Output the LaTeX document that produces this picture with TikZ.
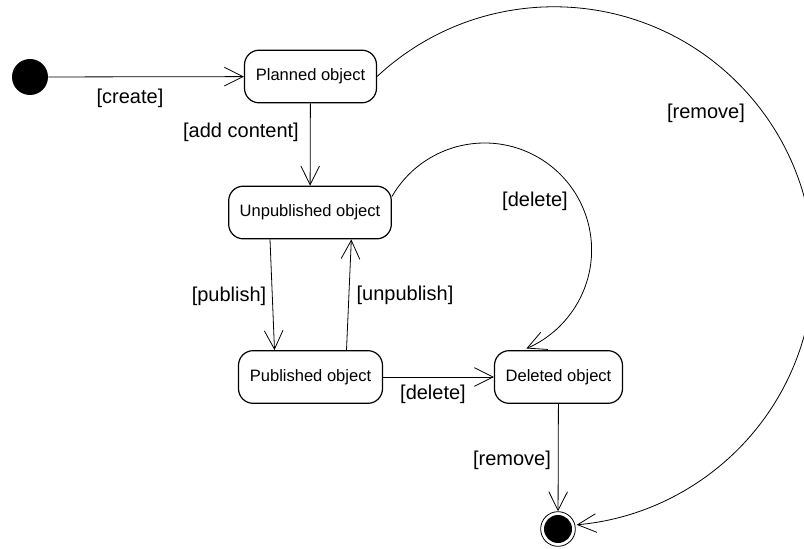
\documentclass[tikz,border=0pt]{standalone}
\usepackage{fontspec}
\setmainfont{Liberation Sans}
\usetikzlibrary{arrows.meta}
\tikzstyle{state} = [rectangle, rounded corners=11pt, minimum height=39.5pt, inner sep=0, line width=0.9pt, draw=black, text centered, font=\fontsize{12.4}{14}\selectfont]
\tikzstyle{guard} = [inner sep=0, font=\fontsize{15}{18}\selectfont]
\tikzstyle{startdot} = [shape=circle, minimum size=27pt, inner sep=0, fill=black]
\tikzstyle{enddot} = [shape=circle, minimum size=26pt, inner sep=0, line width=0.6pt, draw]
\tikzstyle{arrow} = [line width=0.6pt, -{Straight Barb[length=14pt,width=14pt]}]

\begin{document}
\begin{tikzpicture}[x=0.75pt, y=-0.75pt]
\useasboundingbox (0,0) rectangle (804,549);

% states
\node[startdot] (init) at (30,77) {};
\node[state, minimum width=99pt] (plan) at (310.5,76.5) {Planned object};
\node[state, minimum width=122pt] (unpub) at (310,212.5) {Unpublished object};
\node[state, minimum width=108pt] (pub) at (310.5,377) {Published object};
\node[state, minimum width=96pt] (del) at (558.5,377) {Deleted object};
\node[enddot] (final) at (558,529) {};
\fill (final) circle[radius=10.5pt];

% transitions
\draw[arrow] (init) -- (plan);
\draw[arrow] (plan) -- (unpub);
\draw[arrow] ([xshift=-30pt]unpub.south) -- ([xshift=-27pt]pub.north);
\draw[arrow] ([xshift=27pt]pub.north) -- ([xshift=31pt]unpub.south);
\draw[arrow] (pub) -- (del);
\draw[arrow] ([yshift=12pt]unpub.east) arc[start angle=-150, end angle=67, radius=107];
\draw[arrow] (del) -- (final);
\draw[arrow] (plan.east) arc[start angle=-133, end angle=85, radius=259.5];

% guards
\node[guard] (gcreate) at (130,98) {[create]};
\node[guard] (gadd) at (241,132) {[add content]};
\node[guard] (gpub) at (229,296) {[publish]};
\node[guard] (gunpub) at (405,295) {[unpublish]};
\node[guard] (gdel) at (433,394) {[delete]};
\node[guard] (gdel2) at (535,201) {[delete]};
\node[guard] (grem) at (706,113) {[remove]};
\node[guard] (grem2) at (512,460) {[remove]};
\end{tikzpicture}
\end{document}
